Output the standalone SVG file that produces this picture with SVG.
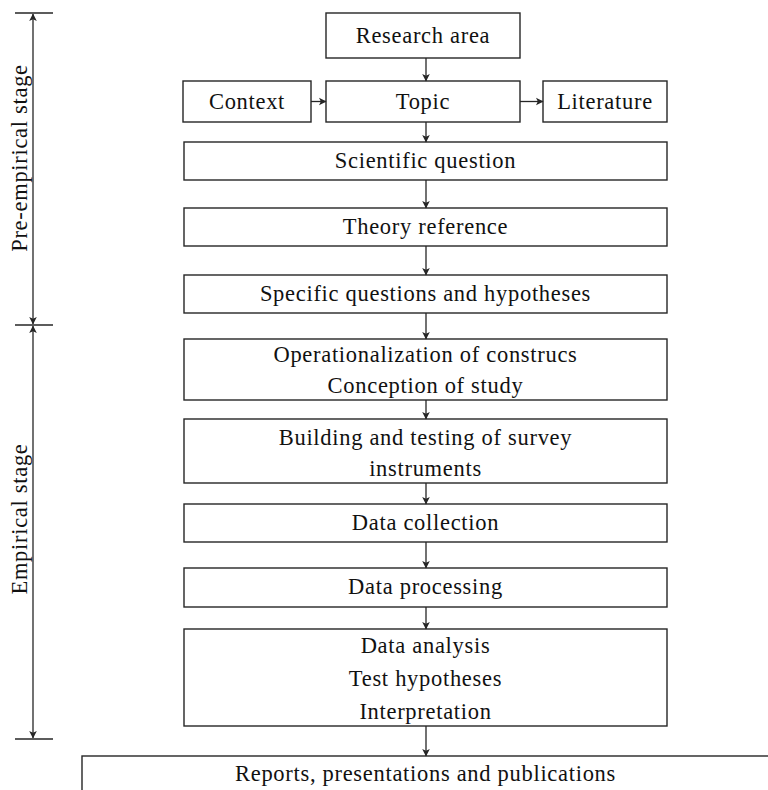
<svg xmlns="http://www.w3.org/2000/svg" width="768" height="790" viewBox="0 0 768 790">
  <style>
    .box { fill: #ffffff; stroke: #262626; stroke-width: 1.4; }
    .lbl { font-family: "Liberation Serif", "Times New Roman", serif; font-size: 22.5px; letter-spacing: 0.7px; fill: #111111; text-anchor: middle; }
    .edge { fill: none; stroke: #262626; stroke-width: 1.3; }
    .tick { stroke: #262626; stroke-width: 1.4; }
  </style>
  <defs>
    <marker id="tip" viewBox="-8 -5 9 10" refX="0" refY="0" markerWidth="9" markerHeight="10" markerUnits="userSpaceOnUse" orient="auto-start-reverse">
      <path d="M0.5,0 L-7,-3.8 L-5.2,0 L-7,3.8 Z" fill="#262626"/>
    </marker>
  </defs>

  <rect width="768" height="790" fill="#ffffff"/>

  <!-- stage brackets -->
  <g id="stage-brackets">
    <line class="tick" x1="15" y1="13" x2="53" y2="13"/>
    <line class="tick" x1="15" y1="325" x2="53" y2="325"/>
    <line class="tick" x1="15" y1="739" x2="53" y2="739"/>
    <line class="edge" x1="33" y1="14" x2="33" y2="324" marker-start="url(#tip)" marker-end="url(#tip)"/>
    <line class="edge" x1="33" y1="326" x2="33" y2="738" marker-start="url(#tip)" marker-end="url(#tip)"/>
    <text class="lbl" transform="translate(27,158) rotate(-90)">Pre-empirical stage</text>
    <text class="lbl" transform="translate(27,519) rotate(-90)">Empirical stage</text>
  </g>

  <!-- nodes -->
  <g id="research-area">
    <rect class="box" x="326" y="13" width="194" height="45"/>
    <text class="lbl" x="423" y="43">Research area</text>
  </g>
  <g id="context">
    <rect class="box" x="183" y="81" width="128" height="41"/>
    <text class="lbl" x="247" y="109">Context</text>
  </g>
  <g id="topic">
    <rect class="box" x="326" y="81" width="194" height="41"/>
    <text class="lbl" x="423" y="109">Topic</text>
  </g>
  <g id="literature">
    <rect class="box" x="543" y="81" width="124" height="41"/>
    <text class="lbl" x="605" y="109">Literature</text>
  </g>
  <g id="scientific-question">
    <rect class="box" x="184" y="142" width="483" height="38"/>
    <text class="lbl" x="425.5" y="168">Scientific question</text>
  </g>
  <g id="theory-reference">
    <rect class="box" x="184" y="208" width="483" height="38"/>
    <text class="lbl" x="425.5" y="234">Theory reference</text>
  </g>
  <g id="specific-questions">
    <rect class="box" x="184" y="275" width="483" height="38"/>
    <text class="lbl" x="425.5" y="301">Specific questions and hypotheses</text>
  </g>
  <g id="operationalization">
    <rect class="box" x="184" y="339" width="483" height="61"/>
    <text class="lbl" x="425.5" y="362">Operationalization of construcs</text>
    <text class="lbl" x="425.5" y="393">Conception of study</text>
  </g>
  <g id="survey-instruments">
    <rect class="box" x="184" y="419" width="483" height="64"/>
    <text class="lbl" x="425.5" y="445">Building and testing of survey</text>
    <text class="lbl" x="425.5" y="476">instruments</text>
  </g>
  <g id="data-collection">
    <rect class="box" x="184" y="504" width="483" height="38"/>
    <text class="lbl" x="425.5" y="530">Data collection</text>
  </g>
  <g id="data-processing">
    <rect class="box" x="184" y="568" width="483" height="39"/>
    <text class="lbl" x="425.5" y="594">Data processing</text>
  </g>
  <g id="data-analysis">
    <rect class="box" x="184" y="629" width="483" height="97"/>
    <text class="lbl" x="425.5" y="653">Data analysis</text>
    <text class="lbl" x="425.5" y="686">Test hypotheses</text>
    <text class="lbl" x="425.5" y="719">Interpretation</text>
  </g>
  <g id="reports">
    <rect class="box" x="82" y="756" width="700" height="60"/>
    <text class="lbl" x="425.5" y="781">Reports, presentations and publications</text>
  </g>

  <!-- connectors -->
  <g id="connectors">
    <line class="edge" x1="426" y1="58" x2="426" y2="81" marker-end="url(#tip)"/>
    <line class="edge" x1="311" y1="101.5" x2="326" y2="101.5" marker-end="url(#tip)"/>
    <line class="edge" x1="520" y1="101.5" x2="543" y2="101.5" marker-end="url(#tip)"/>
    <line class="edge" x1="426" y1="122" x2="426" y2="142" marker-end="url(#tip)"/>
    <line class="edge" x1="426" y1="180" x2="426" y2="208" marker-end="url(#tip)"/>
    <line class="edge" x1="426" y1="246" x2="426" y2="275" marker-end="url(#tip)"/>
    <line class="edge" x1="426" y1="313" x2="426" y2="339" marker-end="url(#tip)"/>
    <line class="edge" x1="426" y1="400" x2="426" y2="419" marker-end="url(#tip)"/>
    <line class="edge" x1="426" y1="483" x2="426" y2="504" marker-end="url(#tip)"/>
    <line class="edge" x1="426" y1="542" x2="426" y2="568" marker-end="url(#tip)"/>
    <line class="edge" x1="426" y1="607" x2="426" y2="629" marker-end="url(#tip)"/>
    <line class="edge" x1="426" y1="726" x2="426" y2="756" marker-end="url(#tip)"/>
  </g>
</svg>
